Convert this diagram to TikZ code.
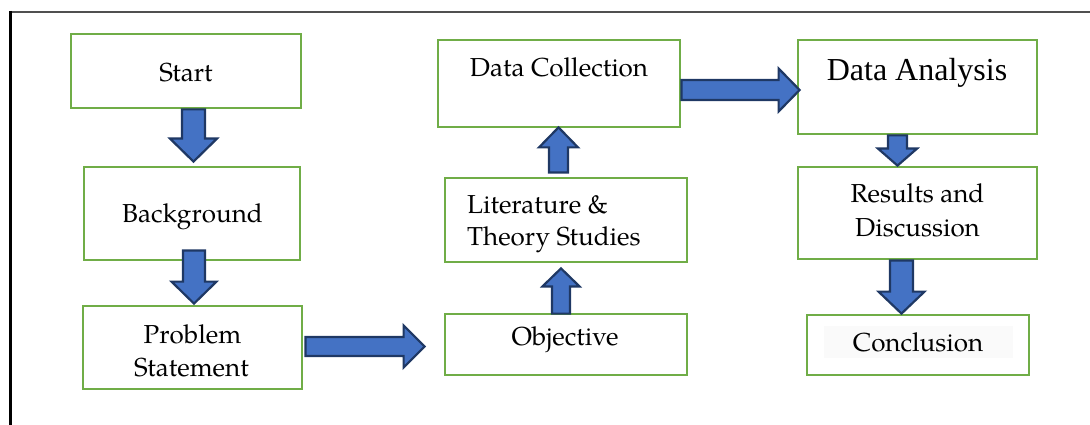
\documentclass[tikz,border=0pt]{standalone}
\usepackage{fontspec}
\setmainfont{TeX Gyre Pagella}
\newfontfamily\timesfont{Liberation Serif}
\usetikzlibrary{calc}
\definecolor{boxgreen}{HTML}{70AD47}
\definecolor{arrowfill}{HTML}{4472C4}
\definecolor{arrowline}{HTML}{1F3864}
\definecolor{framegray}{HTML}{505050}
\tikzset{
  box/.style={draw=boxgreen, line width=2.8pt, fill=white, inner sep=0pt, rectangle},
  txt/.style={font=\fontsize{26}{32.5}\selectfont, inner sep=0pt, anchor=base},
  barrow/.style={fill=arrowfill, draw=arrowline, line width=2.2pt, line join=miter},
}
% block arrow: from, to, shaft half width, head half width, head length
\newcommand\blockarrow[5]{%
  \coordinate (ba-s) at (#1);
  \coordinate (ba-e) at (#2);
  \coordinate (ba-m) at ($(ba-e)!#5!(ba-s)$);
  \draw[barrow] ($(ba-s)!#3!90:(ba-e)$) -- ($(ba-m)!#3!-90:(ba-s)$) -- ($(ba-m)!#4!-90:(ba-s)$)
    -- (ba-e) -- ($(ba-m)!#4!90:(ba-s)$) -- ($(ba-m)!#3!90:(ba-s)$) -- ($(ba-s)!#3!-90:(ba-e)$) -- cycle;
}
\begin{document}
\begin{tikzpicture}[x=1pt,y=-1pt]
\useasboundingbox (0,0) rectangle (1090,425);
% frame
\draw[framegray, line width=1.5pt] (9,12) -- (1090,12);
\draw[black, line width=2.2pt] (10.5,11) -- (10.5,425);
% boxes
\node[box, minimum width=230pt, minimum height=74pt] (start) at (186,71) {};
\node[box, minimum width=216pt, minimum height=93pt] (bg) at (192,213.5) {};
\node[box, minimum width=219pt, minimum height=83pt] (prob) at (192.5,347.5) {};
\node[box, minimum width=242pt, minimum height=61pt] (obj) at (566,344.5) {};
\node[box, minimum width=242pt, minimum height=84pt] (lit) at (566,220) {};
\node[box, minimum width=242pt, minimum height=87pt] (dc) at (559,83.5) {};
\node[box, minimum width=239pt, minimum height=94pt] (da) at (917.5,87) {};
\node[box, minimum width=239pt, minimum height=92pt] (res) at (917.5,213) {};
\node[box, minimum width=222pt, minimum height=60pt] (conc) at (918,345) {};
\fill[black!2] (824,326) rectangle (1013,358);
% texts
\node[txt] (t-start) at (186,82) {Start};
\node[txt] (t-bg) at (192.5,222.5) {Background};
\node[txt] (t-prob1) at (192.5,343) {Problem};
\node[txt] (t-prob2) at (191.5,376) {Statement};
\node[txt] (t-obj) at (565,345) {Objective};
\node[txt, anchor=base west] (t-lit1) at (467,213) {Literature \&};
\node[txt, anchor=base west] (t-lit2) at (467,245) {Theory Studies};
\node[txt] (t-dc) at (559,76.5) {Data Collection};
\node[txt, font=\timesfont\fontsize{32}{38}\selectfont] (t-da) at (917,81) {Data Analysis};
\node[txt] (t-res1) at (917.5,203) {Results and};
\node[txt] (t-res2) at (917.5,236) {Discussion};
\node[txt] (t-conc) at (918,351.5) {Conclusion};
% arrows
\blockarrow{$(start.south)+(7.5,0)$}{$(bg.north)+(1.5,-4)$}{11.5pt}{23.5pt}{23pt}
\blockarrow{$(bg.south)+(2,-11)$}{$(prob.north)+(1.5,-1)$}{11pt}{22.5pt}{22pt}
\blockarrow{$(prob.east)+(2,-1)$}{$(obj.west)+(-19,2)$}{9.5pt}{21pt}{21pt}
\blockarrow{$(obj.north)+(-5,1)$}{$(lit.south)+(-5,5)$}{9pt}{18.5pt}{18pt}
\blockarrow{$(lit.north)+(-7.5,-4)$}{$(dc.south)+(-0.5,-1)$}{9.5pt}{19.5pt}{20pt}
\blockarrow{$(dc.east)+(0,6.5)$}{$(da.west)+(3,3)$}{10pt}{21.5pt}{21pt}
\blockarrow{$(da.south)+(-20,0)$}{$(res.north)+(-20,0)$}{9.5pt}{19.5pt}{17pt}
\blockarrow{$(res.south)+(-16,0)$}{$(conc.north)+(-16.5,0)$}{11.5pt}{23pt}{22pt}
\end{tikzpicture}
\end{document}
